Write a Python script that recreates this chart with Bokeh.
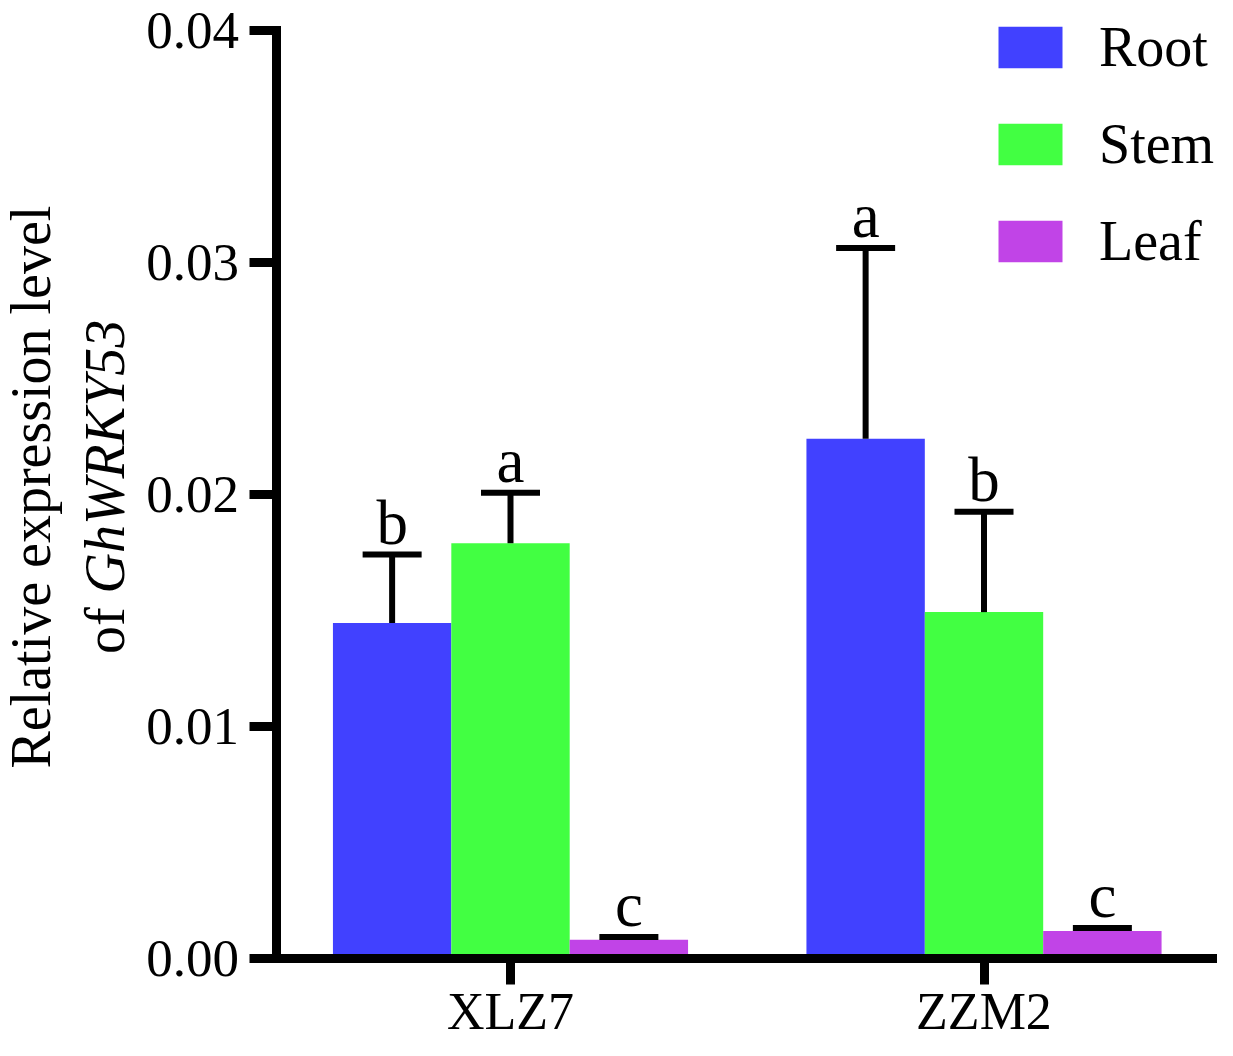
import math
from bokeh.plotting import figure
from bokeh.models import (ColumnDataSource, FixedTicker, Whisker, TeeHead, LabelSet,
                          Label, Legend, LegendItem, Range1d)
from bokeh.core.properties import value
from bokeh.embed import file_html
from bokeh.resources import INLINE

# ---------------- data ----------------
groups = ["XLZ7", "ZZM2"]
tissues = ["Root", "Stem", "Leaf"]
root_mean = [0.01446, 0.02240]
root_sd = [0.00295, 0.00823]
stem_mean = [0.01790, 0.01493]
stem_sd = [0.00218, 0.00433]
leaf_mean = [0.00081, 0.00119]
leaf_sd = [0.00012, 0.00012]
root_sig = ["b", "a"]
stem_sig = ["a", "b"]
leaf_sig = ["c", "c"]
y_ticks = [0.0, 0.01, 0.02, 0.03, 0.04]
y_tick_labels = ["0.00", "0.01", "0.02", "0.03", "0.04"]
colors = ["#4141FF", "#42FF42", "#C144E7"]

# ---------------- layout (pixel anchors) ----------------
W, H = 1217, 1040
PX_X = 473.5          # pixels per group unit
G1_PX = 510.0         # pixel x of first group centre
Y0_PX, Y4_PX = 958.0, 30.0   # pixel y of 0 and of 0.04
YMAX = 0.04
PX_Y = (Y0_PX - Y4_PX) / YMAX
YAXIS_PX = 275.5
BAR_W = 0.25
offsets = [-BAR_W, 0.0, BAR_W]
FONT = "Liberation Serif"

x_start = 1 - G1_PX / PX_X
x_end = x_start + W / PX_X
y_end = Y0_PX / PX_Y
y_start = -(H - Y0_PX) / PX_Y


def dx(px):
    return x_start + px / PX_X


def dy(py):
    return (Y0_PX - py) / PX_Y


p = figure(width=W, height=H, x_range=Range1d(x_start, x_end), y_range=Range1d(y_start, y_end),
           output_backend="svg", toolbar_location=None, title_location=None,
           min_border=0, min_border_left=0, min_border_right=0, min_border_top=0,
           min_border_bottom=0)
p.outline_line_color = None
p.xgrid.visible = False
p.ygrid.visible = False
p.background_fill_color = "white"
p.border_fill_color = "white"

gx = [i + 1 for i in range(len(groups))]
means = [root_mean, stem_mean, leaf_mean]
sds = [root_sd, stem_sd, leaf_sd]
sigs = [root_sig, stem_sig, leaf_sig]

renderers = []
for i, t in enumerate(tissues):
    xs = [g + offsets[i] for g in gx]
    up = [m + s for m, s in zip(means[i], sds[i])]
    src = ColumnDataSource(dict(x=xs, top=means[i], upper=up, sig=sigs[i]))
    r = p.vbar(x="x", top="top", bottom=0, width=BAR_W, source=src,
               fill_color=colors[i], line_color=None)
    renderers.append(r)
    wk = Whisker(base="x", lower="top", upper="upper", source=src,
                 line_width=6, line_color="black",
                 upper_head=TeeHead(size=59, line_width=6, line_color="black"),
                 lower_head=None, level="annotation")
    p.add_layout(wk)
    ls = LabelSet(x="x", y="upper", text="sig", source=src, text_align="center",
                  text_baseline="alphabetic", y_offset=11, text_font=value(FONT),
                  text_font_size="63px", text_color="black")
    p.add_layout(ls)

# ---------------- axes ----------------
ya = p.yaxis[0]
ya.fixed_location = dx(YAXIS_PX)
ya.bounds = (0, YMAX)
ya.ticker = FixedTicker(ticks=y_ticks)
ya.major_label_overrides = {t: l for t, l in zip(y_ticks, y_tick_labels)}
ya.major_label_text_font = FONT
ya.major_label_text_font_size = "53px"
ya.major_label_text_color = "black"
ya.major_label_standoff = 10
ya.axis_line_width = 9
ya.axis_line_cap = "square"
ya.major_tick_line_width = 9
ya.major_tick_out = 27
ya.major_tick_in = 0
ya.minor_tick_out = 0
ya.minor_tick_in = 0

xa = p.xaxis[0]
xa.fixed_location = 0
xa.bounds = (dx(YAXIS_PX), x_end)
xa.ticker = FixedTicker(ticks=gx)
xa.major_label_overrides = {g: "" for g in gx}
xa.major_label_text_font_size = "1px"
xa.major_label_standoff = 0
xa.axis_line_width = 9
xa.axis_line_cap = "square"
xa.major_tick_line_width = 9
xa.major_tick_out = 26
xa.major_tick_in = 0
xa.minor_tick_out = 0
xa.minor_tick_in = 0

# group names under the x axis ticks
gsrc = ColumnDataSource(dict(x=gx, y=[dy(1028)] * len(gx), text=groups))
p.add_layout(LabelSet(x="x", y="y", text="text", source=gsrc, text_align="center",
                      text_baseline="alphabetic", text_font=value(FONT),
                      text_font_size="52px", text_color="black"))

# y-axis title (two lines, gene name in italics)
p.add_layout(Label(x=dx(30), y=dy(486.6), text="Relative expression level", angle=math.pi / 2,
                   text_align="center", text_baseline="alphabetic", text_font=FONT,
                   text_font_size="56px", text_color="black"))
p.add_layout(Label(x=dx(104), y=dy(653.6), text="of", angle=math.pi / 2,
                   text_align="left", text_baseline="alphabetic", text_font=FONT,
                   text_font_size="56px", text_color="black"))
p.add_layout(Label(x=dx(104), y=dy(593), text="GhWRKY53", angle=math.pi / 2,
                   text_align="left", text_baseline="alphabetic", text_font=FONT,
                   text_font_style="italic", text_font_size="56px", text_color="black"))

# ---------------- legend ----------------
legend = Legend(items=[LegendItem(label=t, renderers=[r]) for t, r in zip(tissues, renderers)],
                location=(990, 767), glyph_width=80, glyph_height=52, label_standoff=29,
                spacing=33, padding=0, margin=0, border_line_color=None,
                background_fill_alpha=0, label_text_font=FONT, label_text_font_size="56px",
                label_text_color="black")
p.add_layout(legend)

open("out.html", "w").write(file_html(p, INLINE))
